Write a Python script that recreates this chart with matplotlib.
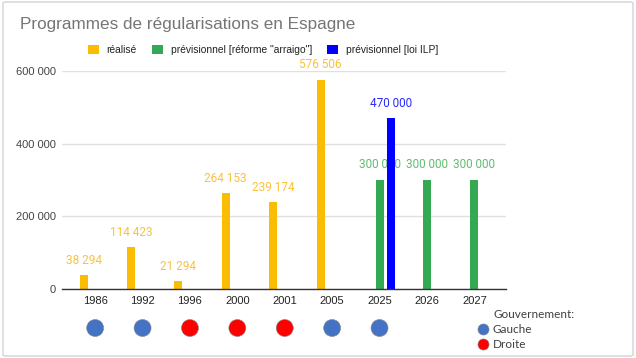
import matplotlib
matplotlib.use("Agg")
import matplotlib.pyplot as plt
import numpy as np
from matplotlib.patches import Patch, FancyBboxPatch
from matplotlib.lines import Line2D

# data
years = ['1986', '1992', '1996', '2000', '2001', '2005', '2025', '2026', '2027']
realise = [38294, 114423, 21294, 264153, 239174, 576506, np.nan, np.nan, np.nan]
arraigo = [np.nan] * 6 + [300000, 300000, 300000]
loi_ilp = [np.nan] * 6 + [470000, np.nan, np.nan]
gouvernement = ['Gauche', 'Gauche', 'Droite', 'Droite', 'Droite', 'Gauche', 'Gauche', None, None]
y_ticks = [0, 200000, 400000, 600000]

series = [
    ('réalisé', realise, '#FBBC04', '#F9C23C', -0.245),
    ('prévisionnel [réforme "arraigo"]', arraigo, '#34A853', '#62BC72', 0.0),
    ('prévisionnel [loi ILP]', loi_ilp, '#0000FF', '#2B2BFF', 0.245),
]
gov_colors = {'Gauche': '#4472C4', 'Droite': '#FF0000'}

plt.rcParams['font.family'] = ['Liberation Sans', 'DejaVu Sans']

W, H = 636, 358
fig = plt.figure(figsize=(W / 100, H / 100), dpi=100)


def fx(px):
    return px / W


def fy(py):
    return 1 - py / H


ax = fig.add_axes([fx(62), fy(289), fx(505.6) - fx(62), fy(71) - fy(289)])
x = np.arange(len(years))
bw = 0.17

for i, (name, vals, col, lcol, off) in enumerate(series):
    vals = np.array(vals, dtype=float)
    ax.bar(x + off, vals, width=bw, color=col, zorder=3 + i)
    for xi, v in zip(x, vals):
        if np.isnan(v):
            continue
        ax.annotate(f"{int(v):,}".replace(',', ' '), (xi + off, v),
                    xytext=(0, 10.8), textcoords='offset points',
                    ha='center', va='center', color=lcol, fontsize=8.5,
                    family=['Roboto', 'DejaVu Sans'], zorder=2 + i,
                    annotation_clip=False)

ax.set_xlim(-0.7, 8.66)
ax.set_ylim(0, 600000)
ax.set_yticks(y_ticks)
ax.set_yticklabels([f"{t:,}".replace(',', ' ') for t in y_ticks])
ax.set_xticks(x)
ax.set_xticklabels(years)
ax.tick_params(axis='both', length=0, labelsize=8, colors='#444444')
ax.tick_params(axis='x', pad=5, labelcolor='#222222')
ax.tick_params(axis='y', pad=4.5)
ax.grid(axis='y', color='#e0e0e0', lw=1, zorder=0)
for s in ['top', 'right', 'left']:
    ax.spines[s].set_visible(False)
ax.spines['bottom'].set_color('#333333')
ax.spines['bottom'].set_linewidth(1)
ax.spines['bottom'].set_zorder(10)

# government row under the axis
gax = fig.add_axes([fx(62), fy(338), fx(505.6) - fx(62), fy(318) - fy(338)], sharex=ax)
gx = [xi for xi, g in zip(x, gouvernement) if g]
gc = [gov_colors[g] for g in gouvernement if g]
gax.scatter(gx, np.zeros(len(gx)), s=150, c=gc, edgecolors='#8a8a8a', linewidths=0.4)
gax.set_ylim(-1, 1)
gax.axis('off')

# title
fig.text(fx(20), fy(24), 'Programmes de régularisations en Espagne', fontsize=12.3,
         color='#757575', ha='left', va='center')

# series legend
handles = [Patch(facecolor=c, edgecolor='none', label=n) for n, _, c, _, _ in series]
fig.legend(handles=handles, loc='center', bbox_to_anchor=(fx(263), fy(50)), ncol=3,
           frameon=False, fontsize=7.4, handlelength=1.05, handleheight=1.05,
           handletextpad=0.75, columnspacing=1.5, labelcolor='#222222')

# government legend
gfont = ['Lato', 'DejaVu Sans']
fig.text(fx(493), fy(314), 'Gouvernement:', family=gfont, fontsize=8.5,
         color='#404040', ha='left', va='center')
ghandles = [Line2D([], [], marker='o', ls='none', markersize=8, markerfacecolor=gov_colors[k],
                   markeredgecolor='#8a8a8a', markeredgewidth=0.4, label=k) for k in gov_colors]
fig.legend(handles=ghandles, loc='upper left', bbox_to_anchor=(fx(478.5), fy(324)),
           frameon=False, borderpad=0, borderaxespad=0,
           prop={'family': gfont, 'size': 8.5},
           handlelength=0.8, handletextpad=0.4, labelspacing=0.35,
           labelcolor='#404040')

# outer frame
fig.patches.append(FancyBboxPatch((fx(3), fy(356)), fx(633) - fx(3), fy(2) - fy(356),
                                  boxstyle='round,pad=0,rounding_size=0.004',
                                  transform=fig.transFigure, fill=False,
                                  edgecolor='#d3d3d3', lw=1))

fig.savefig('out.png', dpi=100)
